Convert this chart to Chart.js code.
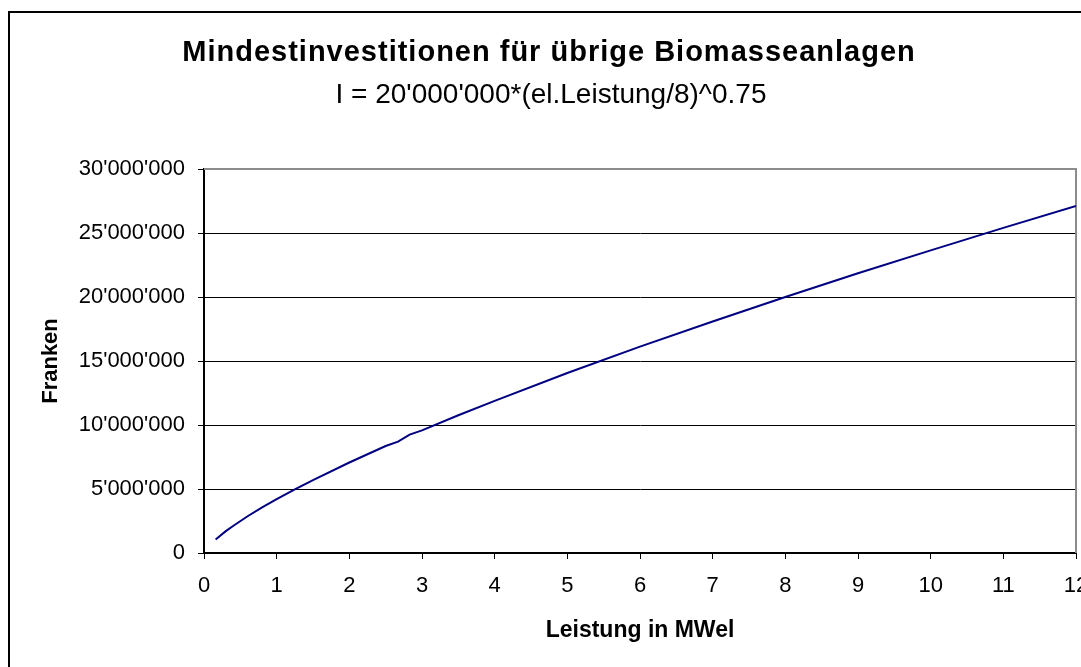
<!DOCTYPE html>
<html>
<head>
<meta charset="utf-8">
<script src="https://cdn.jsdelivr.net/npm/chart.js@4"></script>
<style>
  html, body { margin: 0; padding: 0; background: #fff; overflow: hidden; }
  canvas { display: block; }
</style>
</head>
<body>
<canvas id="chart" width="1081" height="667"></canvas>
<script>
// values
const leistung = [0.16, 0.3, 0.4, 0.6, 0.8, 1, 1.25, 1.5, 2, 2.5, 2.67, 2.83, 3, 3.5, 4, 5, 6, 7, 8, 9, 10, 11, 12];
const franken = [1060000, 1710000, 2110000, 2870000, 3560000, 4200000, 4970000, 5700000, 7070000, 8360000,
  8700000, 9250000, 9580000, 10760000, 11890000, 14060000, 16120000, 18090000, 20000000, 21850000,
  23640000, 25400000, 27110000];

const titleText = "Mindestinvestitionen für übrige Biomasseanlagen";
const subtitleText = "I = 20'000'000*(el.Leistung/8)^0.75";
const xTitle = "Leistung in MWel";
const yTitle = "Franken";

const font = "'Liberation Sans', Arial, sans-serif";

function swiss(v) {
  return String(v).replace(/\B(?=(\d{3})+(?!\d))/g, "'");
}

const frame = {
  id: 'frame',
  beforeDraw(chart) {
    const ctx = chart.ctx;
    ctx.save();
    ctx.fillStyle = '#fff';
    ctx.fillRect(0, 0, chart.width, chart.height);
    ctx.strokeStyle = '#000';
    ctx.lineWidth = 2;
    ctx.beginPath();
    ctx.moveTo(9, chart.height + 5);
    ctx.lineTo(9, 12);
    ctx.lineTo(chart.width + 5, 12);
    ctx.stroke();

    ctx.fillStyle = '#000';
    ctx.textAlign = 'center';
    ctx.textBaseline = 'alphabetic';
    ctx.font = 'bold 29px ' + font;
    ctx.letterSpacing = '1px';
    ctx.fillText(titleText, 549, 61);
    ctx.letterSpacing = '0px';
    ctx.font = '28px ' + font;
    ctx.fillText(subtitleText, 551, 103);
    ctx.restore();
  },
  beforeDatasetsDraw(chart) {
    const a = chart.chartArea;
    const ctx = chart.ctx;
    ctx.save();
    ctx.strokeStyle = '#8c8c8c';
    ctx.lineWidth = 2;
    ctx.beginPath();
    ctx.moveTo(a.left, a.top);
    ctx.lineTo(a.right, a.top);
    ctx.lineTo(a.right, a.bottom);
    ctx.stroke();
    ctx.restore();
  }
};

new Chart(document.getElementById('chart'), {
  type: 'line',
  data: {
    datasets: [{
      data: leistung.map((x, i) => ({ x: x, y: franken[i] })),
      borderColor: '#000080',
      borderWidth: 2,
      pointRadius: 0,
      tension: 0,
      fill: false
    }]
  },
  options: {
    responsive: false,
    devicePixelRatio: 1,
    animation: false,
    layout: { padding: { left: 9, top: 169, right: 5, bottom: 0 } },
    plugins: {
      legend: { display: false },
      tooltip: { enabled: false }
    },
    scales: {
      x: {
        type: 'linear',
        min: 0,
        max: 12,
        afterFit: s => { s.paddingLeft = 0; s.paddingRight = 0; s.height = 114; },
        ticks: {
          stepSize: 1,
          padding: 14,
          color: '#000',
          maxRotation: 0,
          font: { family: font, size: 22 }
        },
        grid: { drawOnChartArea: false, drawTicks: true, tickLength: 6, color: '#000' },
        border: { color: '#000', width: 2 },
        title: {
          display: true,
          text: xTitle,
          color: '#000',
          font: { family: font, size: 23, weight: 'bold' },
          padding: { top: 0, bottom: 23 }
        }
      },
      y: {
        min: 0,
        max: 30000000,
        afterFit: s => { s.paddingTop = 0; s.paddingBottom = 0; s.width = 195; },
        ticks: {
          stepSize: 5000000,
          padding: 13,
          color: '#000',
          font: { family: font, size: 22 },
          callback: v => swiss(v)
        },
        grid: { color: '#000', lineWidth: 1, tickLength: 6 },
        border: { color: '#000', width: 2 },
        title: {
          display: true,
          text: yTitle,
          color: '#000',
          font: { family: font, size: 22, weight: 'bold' },
          padding: { top: 29, bottom: 0 }
        }
      }
    }
  },
  plugins: [frame]
});
</script>
</body>
</html>
